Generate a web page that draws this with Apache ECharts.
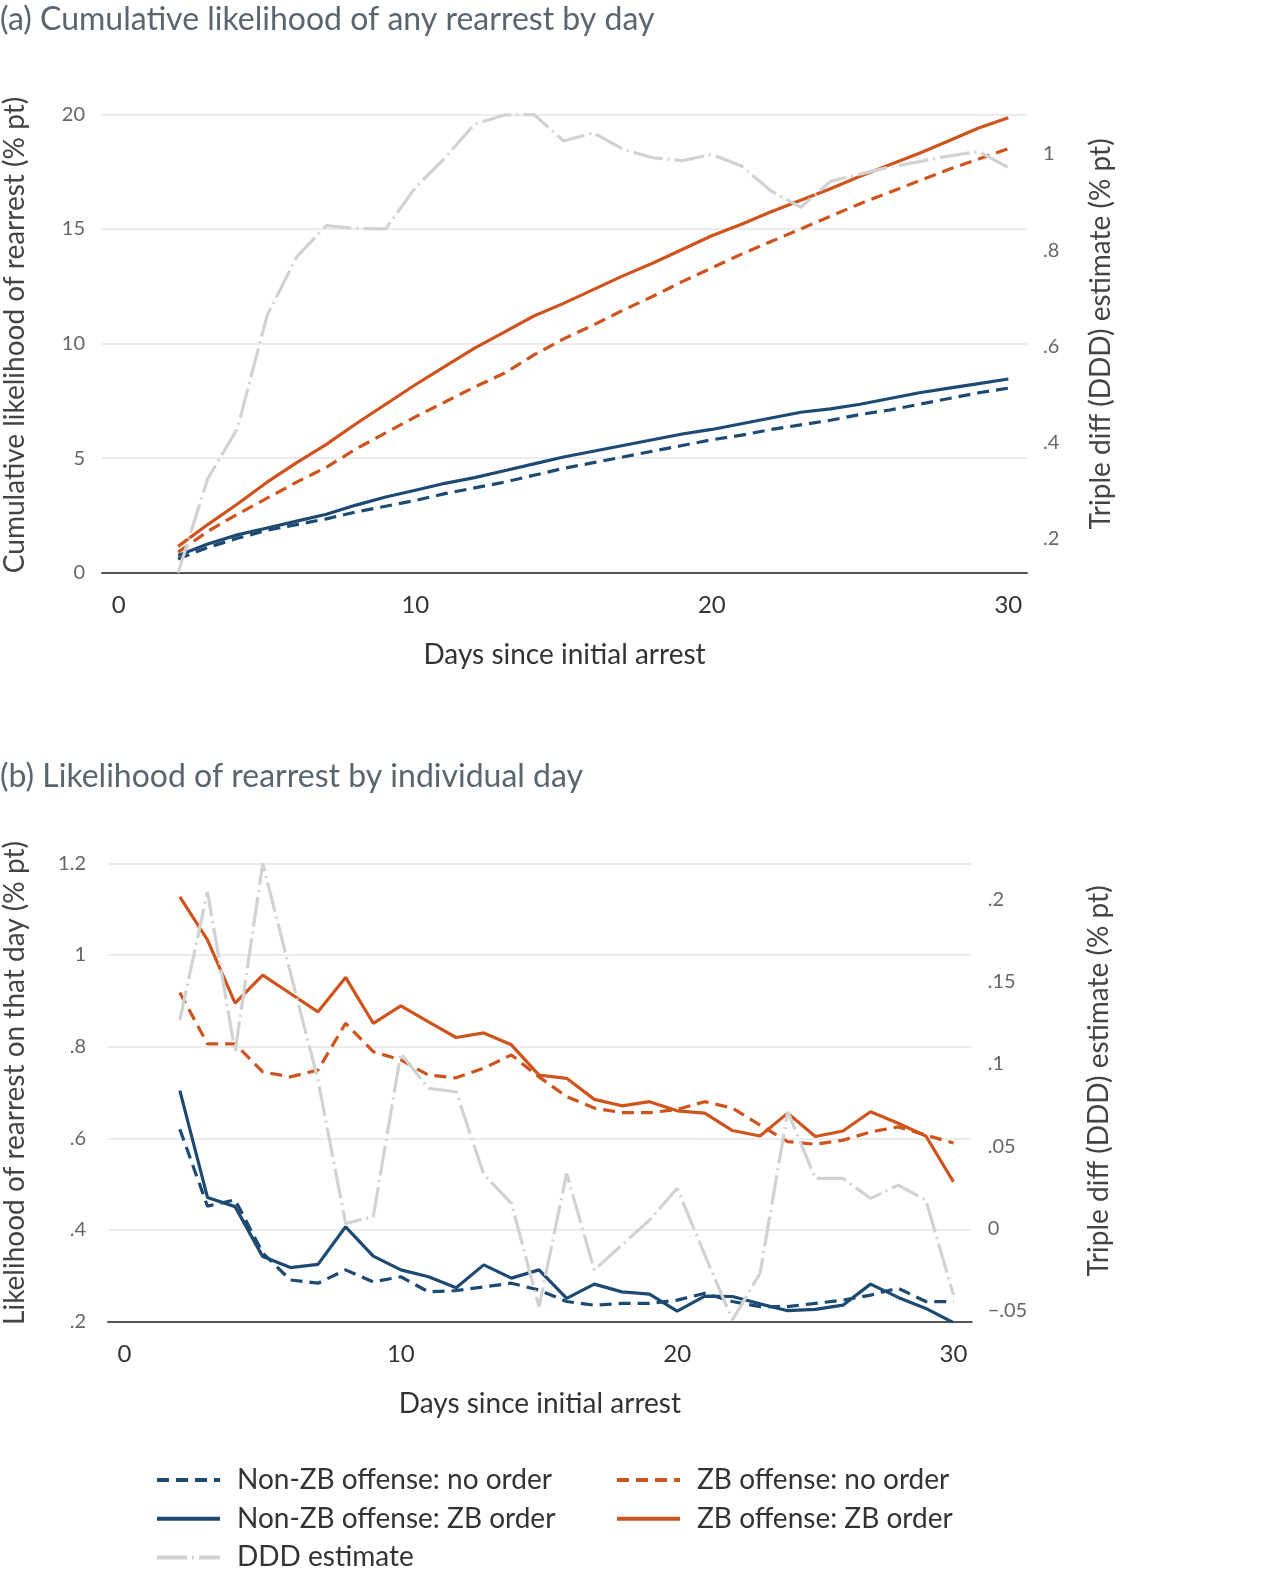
<!DOCTYPE html>
<html>
<head>
<meta charset="utf-8">
<script src="https://cdn.jsdelivr.net/npm/echarts@6/dist/echarts.min.js"></script>
<style>
  html, body { margin: 0; padding: 0; background: #fff; }
  #chart { width: 1280px; height: 1576px; }
</style>
</head>
<body>
<div id="chart"></div>
<script>
// ---------- Data ----------
const days = [2,3,4,5,6,7,8,9,10,11,12,13,14,15,16,17,18,19,20,21,22,23,24,25,26,27,28,29,30];

// (a) cumulative likelihood (% pt), left axis
const cumNonZbNoOrder = [0.6,1.1,1.5,1.85,2.1,2.35,2.65,2.9,3.15,3.45,3.7,3.95,4.25,4.55,4.8,5.05,5.3,5.55,5.8,6.0,6.25,6.45,6.65,6.9,7.1,7.35,7.6,7.85,8.05];
const cumNonZbZbOrder = [0.75,1.25,1.65,1.95,2.25,2.55,2.95,3.3,3.6,3.9,4.15,4.45,4.75,5.05,5.3,5.55,5.8,6.05,6.25,6.5,6.75,7.0,7.15,7.35,7.6,7.85,8.05,8.25,8.45];
const cumZbNoOrder = [0.9,1.8,2.55,3.25,3.95,4.6,5.4,6.1,6.8,7.45,8.1,8.7,9.5,10.2,10.8,11.45,12.05,12.7,13.3,13.9,14.45,15.0,15.55,16.1,16.6,17.1,17.6,18.05,18.5];
const cumZbZbOrder = [1.15,2.1,3.0,3.95,4.8,5.6,6.5,7.35,8.2,9.0,9.8,10.5,11.2,11.75,12.35,12.95,13.5,14.1,14.7,15.2,15.75,16.25,16.75,17.3,17.8,18.3,18.85,19.4,19.85];
// (a) DDD estimate, right axis
const cumDdd = [0.129,0.325,0.429,0.664,0.786,0.851,0.845,0.844,0.930,0.992,1.062,1.081,1.082,1.027,1.044,1.010,0.992,0.986,0.999,0.975,0.923,0.889,0.943,0.958,0.973,0.984,0.996,1.005,0.972];

// (b) likelihood on that day (% pt), left axis
const dayNonZbNoOrder = [0.620,0.452,0.466,0.350,0.291,0.284,0.313,0.287,0.298,0.265,0.268,0.276,0.284,0.269,0.244,0.236,0.240,0.240,0.247,0.262,0.244,0.233,0.233,0.240,0.247,0.258,0.273,0.244,0.244];
const dayNonZbZbOrder = [0.704,0.471,0.451,0.342,0.318,0.325,0.407,0.343,0.313,0.298,0.274,0.324,0.295,0.313,0.251,0.282,0.265,0.260,0.223,0.256,0.255,0.239,0.224,0.227,0.236,0.282,0.253,0.229,0.198];
const dayZbNoOrder = [0.918,0.806,0.806,0.745,0.734,0.749,0.851,0.789,0.771,0.738,0.732,0.753,0.782,0.734,0.691,0.666,0.656,0.656,0.663,0.680,0.666,0.629,0.593,0.587,0.596,0.614,0.625,0.607,0.590];
const dayZbZbOrder = [1.127,1.033,0.895,0.956,0.916,0.876,0.951,0.851,0.889,0.854,0.820,0.830,0.804,0.738,0.731,0.685,0.671,0.680,0.660,0.655,0.617,0.605,0.655,0.604,0.616,0.658,0.633,0.605,0.505];
// (b) DDD estimate, right axis
const dayDdd = [0.1267,0.2046,0.1074,0.2219,0.1556,0.0902,0.0031,0.0072,0.1064,0.0852,0.0831,0.033,0.0153,-0.0475,0.0335,-0.0252,-0.010,0.0052,0.0244,-0.016,-0.0556,-0.0272,0.071,0.0305,0.0305,0.0183,0.0264,0.0173,-0.0404];

// tick labels
const xTicks = [0,10,20,30];
const cumRightTicks = [0.2,0.4,0.6,0.8,1];
const dayRightTicks = [-0.05,0,0.05,0.1,0.15,0.2];

const names = {
  nzNo: 'Non-ZB offense: no order',
  nzZb: 'Non-ZB offense: ZB order',
  zNo: 'ZB offense: no order',
  zZb: 'ZB offense: ZB order',
  ddd: 'DDD estimate'
};

// ---------- Styling ----------
const BLUE = '#1d4a73';
const ORANGE = '#cf531c';
const GRAY = '#d2d2d2';
const FONT = 'Lato';
const DASH = [12, 7];
const DASHDOT = [30, 5, 2, 5];

function fmt(v) {
  let r = Math.round(v * 1000) / 1000;
  let s = String(r);
  if (s.startsWith('0.')) s = s.slice(1);
  else if (s.startsWith('-0.')) s = '\u2212' + s.slice(2);
  return s;
}
const pairs = arr => days.map((d, i) => [d, arr[i]]);

function lineSeries(name, arr, color, type, xi, yi) {
  return {
    name, type: 'line', xAxisIndex: xi, yAxisIndex: yi,
    data: pairs(arr), symbol: 'none', showSymbol: false,
    lineStyle: { color, width: 3.2, type },
    itemStyle: { color },
    emphasis: { disabled: true },
    animation: false
  };
}

const xAxisCommon = (gi, min, max) => ({
  type: 'value', gridIndex: gi, min, max,
  axisLine: { show: true, onZero: false, lineStyle: { color: '#555', width: 2 } },
  axisTick: { show: false },
  splitLine: { show: false },
  axisLabel: { customValues: xTicks, margin: 21, color: '#333', fontSize: 24, fontFamily: FONT },
  name: 'Days since initial arrest', nameLocation: 'middle', nameGap: 68,
  nameTextStyle: { color: '#333', fontSize: 28, fontFamily: FONT }
});

const yName = { color: '#444', fontSize: 28, fontFamily: FONT };

const legendCommon = {
  orient: 'vertical', top: 1466, padding: 0, itemWidth: 63, itemHeight: 14, itemGap: 10.7,
  selectedMode: false,
  itemStyle: { opacity: 0 },
  lineStyle: { width: 4 },
  textStyle: { color: '#333', fontSize: 28, fontFamily: FONT, lineHeight: 28, padding: [0, 0, 0, 12] }
};

const option = {
  animation: false,
  backgroundColor: '#fff',
  textStyle: { fontFamily: FONT },
  title: [
    { text: '(a) Cumulative likelihood of any rearrest by day', left: 0, top: 4, padding: 0,
      textStyle: { color: '#5a6570', fontSize: 32, fontWeight: 'normal', fontFamily: FONT } },
    { text: '(b) Likelihood of rearrest by individual day', left: 0, top: 761, padding: 0,
      textStyle: { color: '#5a6570', fontSize: 32, fontWeight: 'normal', fontFamily: FONT } }
  ],
  grid: [
    { left: 102, right: 253, top: 114.3, height: 458.4, containLabel: false, outerBoundsMode: 'none' },
    { left: 108, right: 308.3, top: 863.3, height: 458.4, containLabel: false, outerBoundsMode: 'none' }
  ],
  xAxis: [
    xAxisCommon(0, -0.567, 30.63),
    xAxisCommon(1, -0.60, 30.66)
  ],
  yAxis: [
    { type: 'value', gridIndex: 0, position: 'left', min: 0, max: 20, interval: 5,
      axisLine: { show: false }, axisTick: { show: false },
      splitLine: { show: true, lineStyle: { color: '#e6e6e6', width: 1.5 } },
      axisLabel: { margin: 17, color: '#666', fontSize: 20, fontFamily: FONT },
      name: 'Cumulative likelihood of rearrest (% pt)', nameLocation: 'middle', nameRotate: 90, nameGap: 73,
      nameTextStyle: Object.assign({ padding: [0, 0, 0, 17] }, yName) },
    { type: 'value', gridIndex: 0, position: 'right', min: 0.1293, max: 1.0824,
      axisLine: { show: false }, axisTick: { show: false }, splitLine: { show: false },
      axisLabel: { customValues: cumRightTicks, formatter: fmt, margin: 16, color: '#666', fontSize: 20, fontFamily: FONT },
      name: 'Triple diff (DDD) estimate (% pt)', nameLocation: 'middle', nameRotate: 90, nameGap: 60,
      nameTextStyle: Object.assign({ padding: [0, 0, 0, 19] }, yName) },
    { type: 'value', gridIndex: 1, position: 'left', min: 0.2, max: 1.2, interval: 0.2,
      axisLine: { show: false }, axisTick: { show: false },
      splitLine: { show: true, lineStyle: { color: '#e6e6e6', width: 1.5 } },
      axisLabel: { formatter: fmt, margin: 22, color: '#666', fontSize: 20, fontFamily: FONT },
      name: 'Likelihood of rearrest on that day (% pt)', nameLocation: 'middle', nameRotate: 90, nameGap: 79,
      nameTextStyle: Object.assign({ padding: [0, 0, 0, 19] }, yName) },
    { type: 'value', gridIndex: 1, position: 'right', min: -0.0566, max: 0.2219,
      axisLine: { show: false }, axisTick: { show: false }, splitLine: { show: false },
      axisLabel: { customValues: dayRightTicks, formatter: fmt, margin: 16, color: '#666', fontSize: 20, fontFamily: FONT },
      name: 'Triple diff (DDD) estimate (% pt)', nameLocation: 'middle', nameRotate: 90, nameGap: 113,
      nameTextStyle: Object.assign({ padding: [0, 0, 0, 23] }, yName) }
  ],
  legend: [
    Object.assign({ left: 155, data: [names.nzNo, names.nzZb, names.ddd] }, legendCommon),
    Object.assign({ left: 615, data: [names.zNo, names.zZb] }, legendCommon)
  ],
  series: [
    lineSeries(names.nzNo, cumNonZbNoOrder, BLUE, DASH, 0, 0),
    lineSeries(names.zNo, cumZbNoOrder, ORANGE, DASH, 0, 0),
    lineSeries(names.nzZb, cumNonZbZbOrder, BLUE, 'solid', 0, 0),
    lineSeries(names.zZb, cumZbZbOrder, ORANGE, 'solid', 0, 0),
    lineSeries(names.ddd, cumDdd, GRAY, DASHDOT, 0, 1),
    lineSeries(names.nzNo, dayNonZbNoOrder, BLUE, DASH, 1, 2),
    lineSeries(names.zNo, dayZbNoOrder, ORANGE, DASH, 1, 2),
    lineSeries(names.nzZb, dayNonZbZbOrder, BLUE, 'solid', 1, 2),
    lineSeries(names.zZb, dayZbZbOrder, ORANGE, 'solid', 1, 2),
    lineSeries(names.ddd, dayDdd, GRAY, DASHDOT, 1, 3)
  ]
};

const chart = echarts.init(document.getElementById('chart'), null, { renderer: 'canvas' });
chart.setOption(option);
</script>
</body>
</html>
